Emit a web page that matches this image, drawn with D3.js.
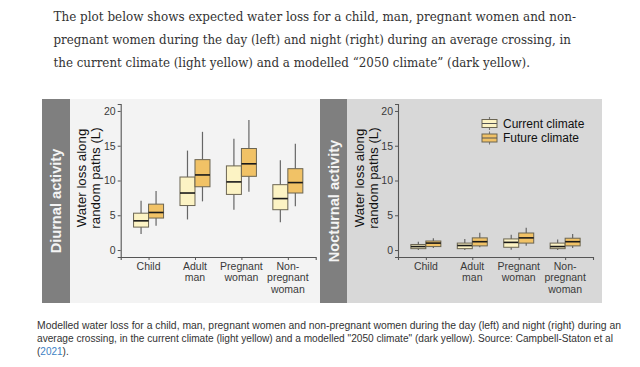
<!DOCTYPE html>
<html>
<head>
<meta charset="utf-8">
<title>Water loss</title>
<script src="https://d3js.org/d3.v7.min.js"></script>
<style>
  body { margin: 0; background: #fff; }
</style>
</head>
<body>
<div id="chart"></div>
<script>

// categories on the x axis (split into label lines)
const categories = [["Child"], ["Adult", "man"], ["Pregnant", "woman"], ["Non-", "pregnant", "woman"]];
const seriesNames = ["Current climate", "Future climate"];
const yTicks = [0, 5, 10, 15, 20];

// [min, q1, median, q3, max] per category
const dayCurrent = [[2.3, 3.3, 4.2, 5.3, 7.1], [4.4, 6.4, 8.2, 10.5, 14.3], [5.8, 8.0, 9.8, 12.1, 16.0], [4.0, 5.8, 7.4, 9.4, 12.9]];
const dayFuture = [[3.5, 4.6, 5.4, 6.6, 8.5], [7.0, 9.1, 10.8, 13.0, 17.0], [8.4, 10.6, 12.4, 14.6, 18.7], [6.3, 8.2, 9.7, 11.7, 15.3]];
const nightCurrent = [[0.0, 0.2, 0.5, 0.8, 1.2], [0.0, 0.2, 0.65, 1.0, 1.6], [0.05, 0.4, 1.1, 1.6, 2.2], [0.0, 0.2, 0.5, 1.0, 1.5]];
const nightFuture = [[0.3, 0.5, 1.0, 1.3, 1.7], [0.4, 0.6, 1.2, 1.75, 2.5], [0.6, 1.0, 1.75, 2.45, 3.2], [0.3, 0.6, 1.2, 1.7, 2.3]];

const introLines = [
  "The plot below shows expected water loss for a child, man, pregnant women and non-",
  "pregnant women during the day (left) and night (right) during an average crossing, in",
  "the current climate (light yellow) and a modelled \u201c2050 climate\u201d (dark yellow)."
];
const captionLines = [
  "Modelled water loss for a child, man, pregnant women and non-pregnant women during the day (left) and night (right) during an",
  "average crossing, in the current climate (light yellow) and a modelled \"2050 climate\" (dark yellow). Source: Campbell-Staton et al"
];

const fills = ["#fcf3c4", "#f1c266"];

const svg = d3.select("#chart").append("svg")
  .attr("width", 640)
  .attr("height", 367)
  .attr("font-family", "Liberation Sans, Arial, sans-serif");

// intro paragraph
const introEnds = [576, 571, 530];
const introY = [20.5, 44, 67];
introLines.forEach((t, i) => {
  svg.append("text")
    .attr("x", 53.5)
    .attr("y", introY[i])
    .attr("font-family", "DejaVu Serif, serif")
    .attr("font-size", 12.4)
    .attr("fill", "#333")
    .attr("textLength", introEnds[i] - 53.5)
    .attr("lengthAdjust", "spacingAndGlyphs")
    .text(t);
});

function drawPanel(p) {
  const g = svg.append("g");

  g.append("rect").attr("x", p.x).attr("y", 99).attr("width", p.w).attr("height", 204).attr("fill", p.bg);
  g.append("rect").attr("x", p.x).attr("y", 99).attr("width", p.strip).attr("height", 204).attr("fill", "#7f7f7f");

  g.append("text")
    .attr("transform", `translate(${p.x + p.strip / 2},201) rotate(-90)`)
    .attr("text-anchor", "middle")
    .attr("dominant-baseline", "central")
    .attr("font-weight", "bold")
    .attr("font-size", 14.6)
    .attr("fill", "#f4f4f4")
    .text(p.label);

  // y axis title
  ["Water loss along", "random paths (L)"].forEach((t, i) => {
    g.append("text")
      .attr("transform", `translate(${p.titleX + i * 13.3},178) rotate(-90)`)
      .attr("text-anchor", "middle")
      .attr("dominant-baseline", "central")
      .attr("font-size", 13.3)
      .attr("fill", "#111")
      .text(t);
  });

  const y = d3.scaleLinear().domain([-1, 21]).range([257, 104]);
  const x = d3.scalePoint().domain(d3.range(categories.length)).range([p.axisX, p.axisX + 195]).padding(0.6);

  const ya = g.append("g")
    .attr("transform", `translate(${p.axisX},0)`)
    .call(d3.axisLeft(y).tickValues(yTicks).tickSizeOuter(0).tickSize(3).tickPadding(2));
  ya.select(".domain").attr("stroke", "#555").attr("stroke-width", 1.1);
  ya.selectAll(".tick line").attr("stroke", "#555");
  ya.selectAll(".tick text").attr("font-size", 10.5).attr("fill", "#3a3a3a").attr("font-family", "Liberation Sans, Arial, sans-serif");

  const xa = g.append("g")
    .attr("transform", "translate(0,257)")
    .call(d3.axisBottom(x).tickSizeOuter(0).tickSize(3).tickFormat(""));
  xa.select(".domain").attr("stroke", "#555").attr("stroke-width", 1.1);
  xa.selectAll(".tick line").attr("stroke", "#555");

  categories.forEach((lines, i) => {
    const t = g.append("text")
      .attr("text-anchor", "middle")
      .attr("font-size", 10.5)
      .attr("fill", "#3a3a3a");
    lines.forEach((l, j) => {
      t.append("tspan").attr("x", x(i)).attr("y", 269.5 + j * 11.8).text(l);
    });
  });

  const bw = 15;
  [p.current, p.future].forEach((vals, s) => {
    vals.forEach((v, i) => {
      const cx = x(i) + (s - 0.5) * bw;
      const b = g.append("g");
      b.append("line").attr("x1", cx).attr("x2", cx).attr("y1", y(v[0])).attr("y2", y(v[1]))
        .attr("stroke", "#666").attr("stroke-width", 1.2);
      b.append("line").attr("x1", cx).attr("x2", cx).attr("y1", y(v[3])).attr("y2", y(v[4]))
        .attr("stroke", "#666").attr("stroke-width", 1.2);
      b.append("rect")
        .attr("x", cx - bw / 2).attr("width", bw)
        .attr("y", y(v[3])).attr("height", y(v[1]) - y(v[3]))
        .attr("fill", fills[s]).attr("stroke", "#6b6552").attr("stroke-width", 1);
      b.append("line").attr("x1", cx - bw / 2).attr("x2", cx + bw / 2).attr("y1", y(v[2])).attr("y2", y(v[2]))
        .attr("stroke", "#1a1a1a").attr("stroke-width", 1.6);
    });
  });

  if (p.legend) {
    seriesNames.forEach((name, s) => {
      const cy = 123.5 + s * 14.5;
      const lg = g.append("g");
      lg.append("line").attr("x1", 489.5).attr("x2", 489.5).attr("y1", cy - 6.5).attr("y2", cy + 6.5)
        .attr("stroke", "#777").attr("stroke-width", 1.1);
      lg.append("rect").attr("x", 482).attr("y", cy - 4).attr("width", 15).attr("height", 8)
        .attr("fill", fills[s]).attr("stroke", "#6b6552");
      lg.append("line").attr("x1", 482).attr("x2", 497).attr("y1", cy).attr("y2", cy)
        .attr("stroke", "#555").attr("stroke-width", 1);
      lg.append("text").attr("x", 503).attr("y", cy).attr("dominant-baseline", "central")
        .attr("font-size", 12).attr("fill", "#111").text(name);
    });
  }
}

drawPanel({ x: 42, w: 278, strip: 28, bg: "#f3f3f3", label: "Diurnal activity", titleX: 81.7, axisX: 120.7,
  current: dayCurrent, future: dayFuture, legend: false });
drawPanel({ x: 320, w: 282, strip: 27, bg: "#d8d8d8", label: "Nocturnal activity", titleX: 359.7, axisX: 398,
  current: nightCurrent, future: nightFuture, legend: true });

// caption
const capEnds = [621, 613];
const capY = [329, 342];
captionLines.forEach((t, i) => {
  svg.append("text")
    .attr("x", 37)
    .attr("y", capY[i])
    .attr("font-size", 10)
    .attr("fill", "#333")
    .attr("textLength", capEnds[i] - 37)
    .attr("lengthAdjust", "spacingAndGlyphs")
    .text(t);
});
const last = svg.append("text").attr("x", 37).attr("y", 355).attr("font-size", 10).attr("fill", "#333");
last.append("tspan").text("(");
last.append("tspan").attr("fill", "#3d7fc4").text("2021");
last.append("tspan").text(").");

</script>
</body>
</html>
